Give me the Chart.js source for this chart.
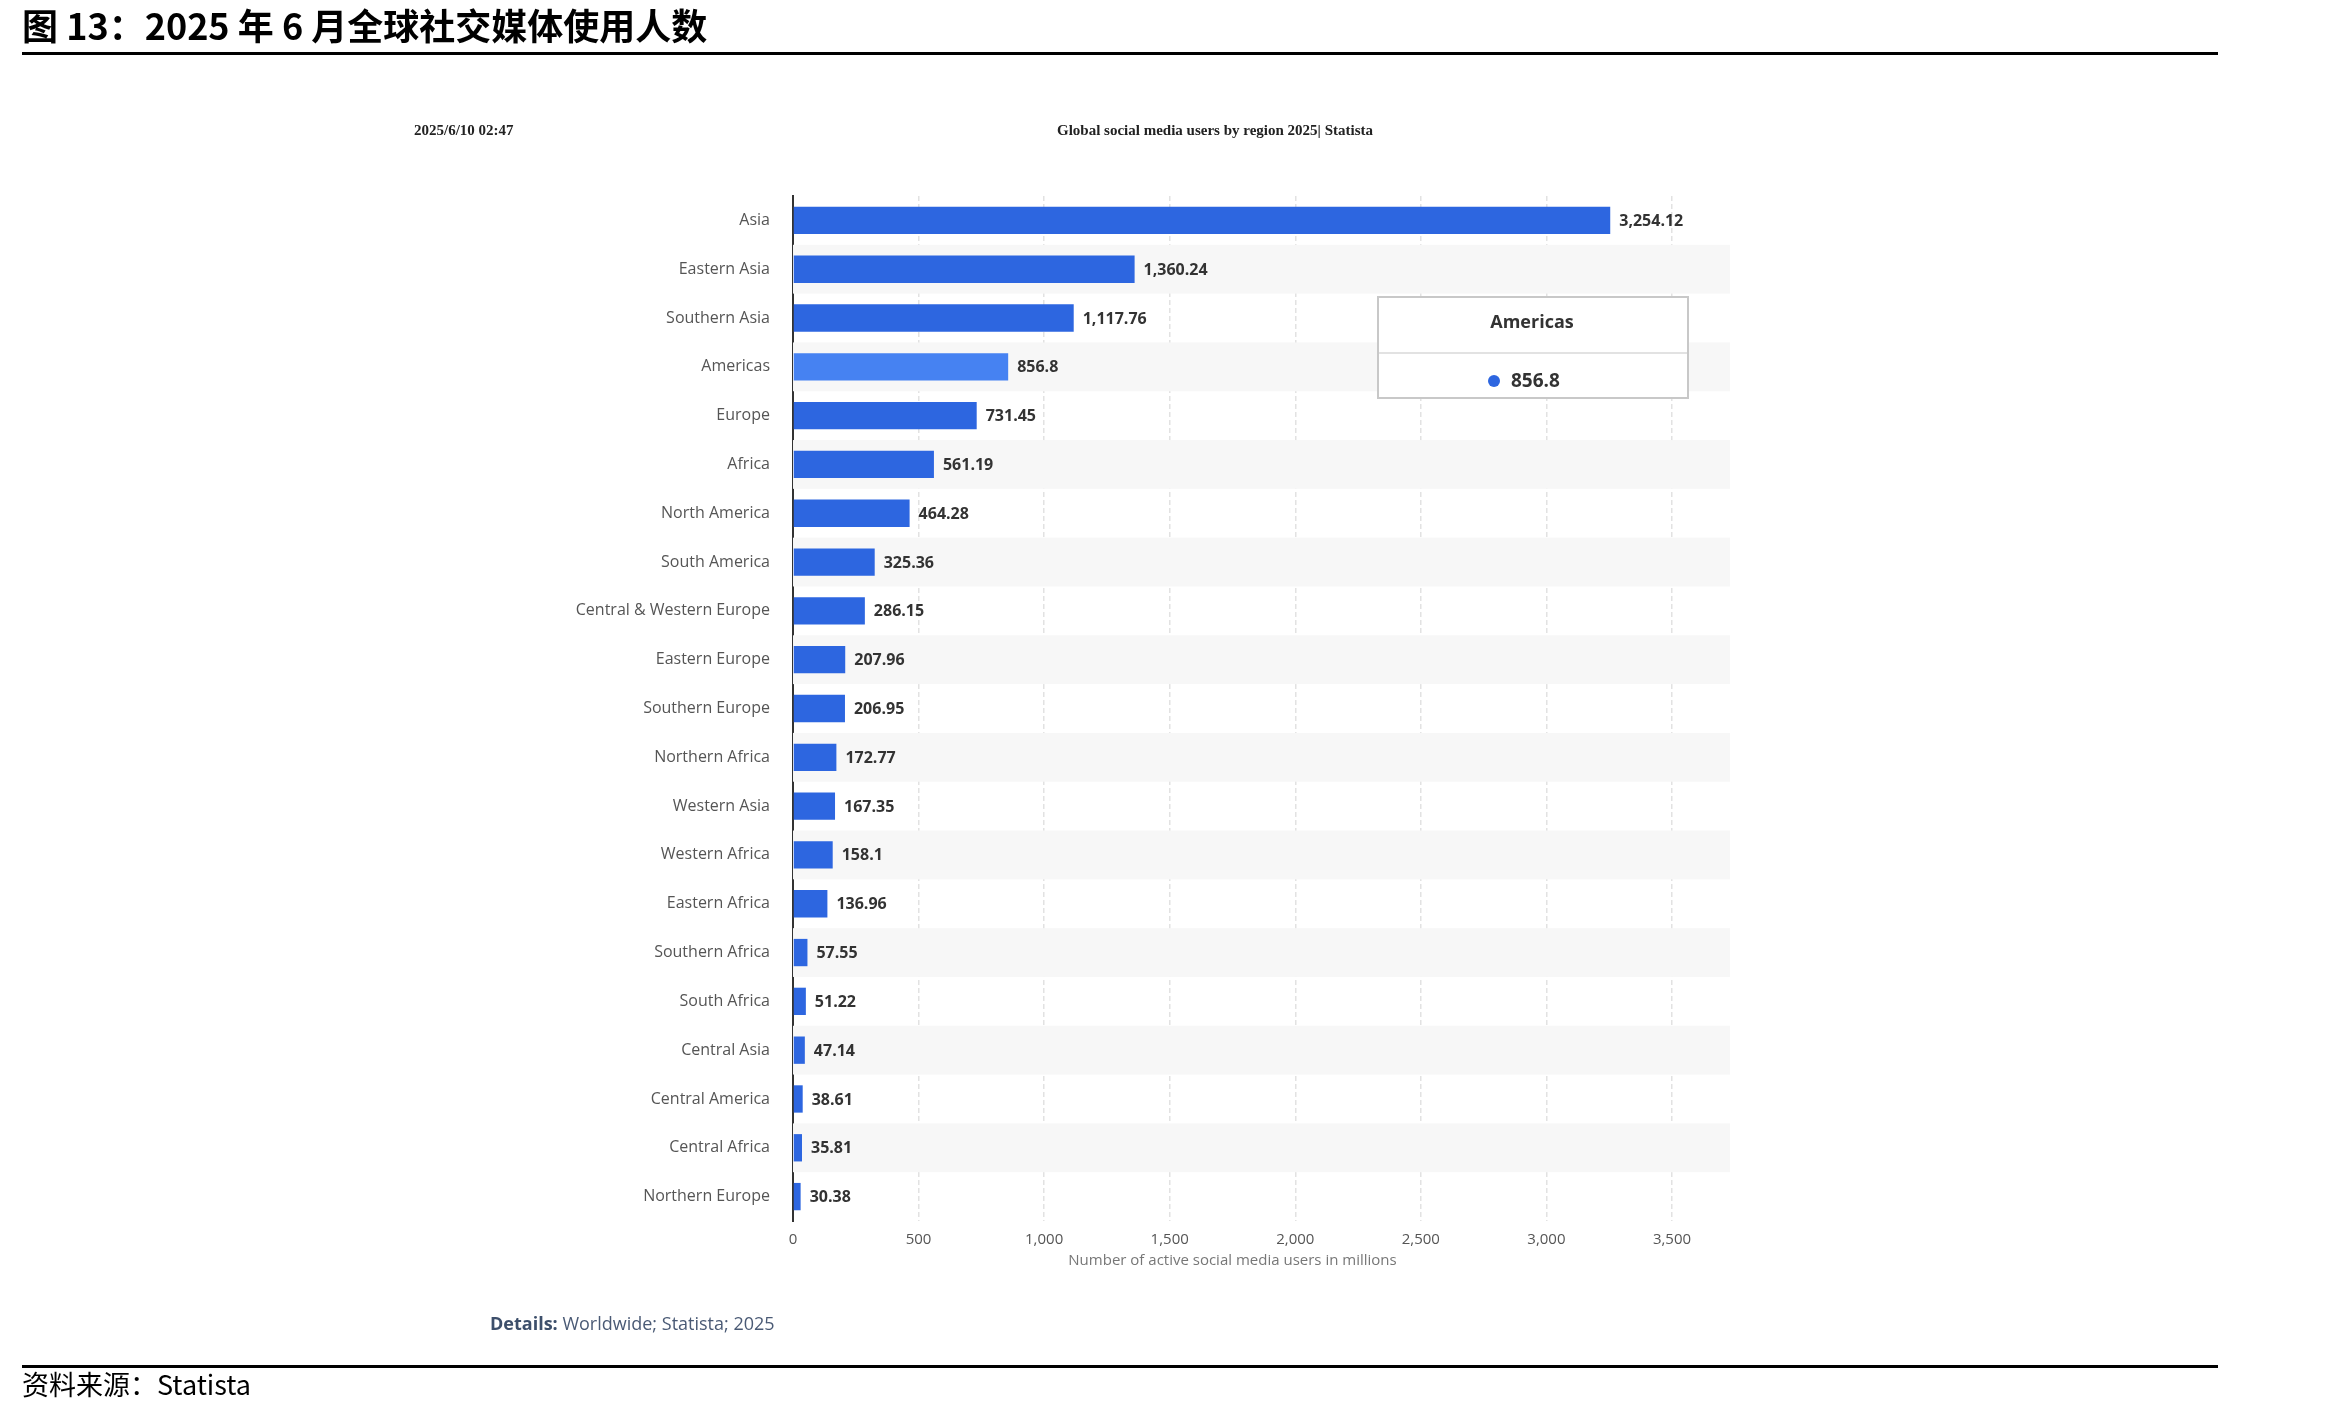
<!DOCTYPE html>
<html><head><meta charset="utf-8">
<script src="https://cdn.jsdelivr.net/npm/chart.js@4.4.1/dist/chart.umd.min.js"></script>
<style>html,body{margin:0;padding:0;background:#fff;overflow:hidden}canvas{display:block}</style>
</head><body>
<canvas id="c" width="2327" height="1401"></canvas>
<script>
const categories=["Asia","Eastern Asia","Southern Asia","Americas","Europe","Africa","North America","South America","Central & Western Europe","Eastern Europe","Southern Europe","Northern Africa","Western Asia","Western Africa","Eastern Africa","Southern Africa","South Africa","Central Asia","Central America","Central Africa","Northern Europe"];
const users=[3254.12,1360.24,1117.76,856.8,731.45,561.19,464.28,325.36,286.15,207.96,206.95,172.77,167.35,158.1,136.96,57.55,51.22,47.14,38.61,35.81,30.38];
const xTicks=[0,500,1000,1500,2000,2500,3000,3500];
const highlighted="Americas";
const fmt=v=>v.toLocaleString('en-US',{maximumFractionDigits:2});
const F='"Open Sans","Noto Sans",sans-serif';

const deco={id:'deco',
beforeDatasetsDraw(ch){const c=ch.ctx,a=ch.chartArea,y=ch.scales.y;const h=y.getPixelForValue(1)-y.getPixelForValue(0);
 c.save();c.fillStyle='#f7f7f7';
 for(let i=1;i<categories.length;i+=2){const p=y.getPixelForValue(i);c.fillRect(a.left,p-h/2,a.right-a.left,h);}
 c.restore();},
afterDraw(ch){const c=ch.ctx,a=ch.chartArea,m=ch.getDatasetMeta(0);
 c.save();c.textBaseline='middle';
 c.font='bold 16px '+F;c.fillStyle='#333';c.textAlign='left';
 m.data.forEach((b,i)=>c.fillText(fmt(users[i]),b.x+9,b.y+1));
 c.font='15px '+F;c.fillStyle='#777';c.textAlign='center';
 c.fillText('Number of active social media users in millions',(a.left+ch.scales.x.getPixelForValue(3500))/2,1261);
 // top texts
 c.font='bold 36px "Noto Sans CJK SC",sans-serif';c.fillStyle='#000';c.textAlign='left';
 c.fillText('图 13：2025 年 6 月全球社交媒体使用人数',22,26);
 c.fillRect(22,52,2196,3);
 c.font='bold 15px "Liberation Serif",serif';c.fillStyle='#222';
 c.fillText('2025/6/10 02:47',414,131);
 c.textAlign='center';c.fillText('Global social media users by region 2025| Statista',1215,131);
 c.textAlign='left';c.font='bold 18px '+F;c.fillStyle='#3d4f6b';
 c.fillText('Details:',490,1325);const w=c.measureText('Details: ').width;
 c.font='18px '+F;c.fillStyle='#4a5a75';c.fillText('Worldwide; Statista; 2025',490+w,1325);
 c.fillStyle='#000';c.fillRect(22,1365,2196,3);
 c.font='27px "Noto Sans CJK SC",sans-serif';c.fillText('资料来源：Statista',22,1385);
 // tooltip
 const i=categories.indexOf(highlighted);
 c.fillStyle='#fff';c.fillRect(1378,297,310,101);c.strokeStyle='#c8c8c8';c.lineWidth=2;c.strokeRect(1378,297,310,101);
 c.beginPath();c.moveTo(1379,353);c.lineTo(1687,353);c.strokeStyle='#e2e2e2';c.stroke();
 c.textAlign='center';c.fillStyle='#333';c.font='bold 18px '+F;c.fillText(categories[i],1532,323);
 c.fillStyle='#2d66e0';c.beginPath();c.arc(1494,381,6,0,Math.PI*2);c.fill();
 c.fillStyle='#333';c.textAlign='left';c.font='bold 19px '+F;c.fillText(fmt(users[i]),1511,382);
 c.restore();}};

new Chart(document.getElementById('c'),{type:'bar',
data:{labels:categories,datasets:[{data:users,backgroundColor:categories.map(k=>k===highlighted?'#4682f2':'#2d66e0'),barPercentage:0.56,categoryPercentage:1}]},
options:{indexAxis:'y',responsive:false,animation:false,devicePixelRatio:1,
 layout:{padding:{left:0,top:196,right:597,bottom:0}},
 plugins:{legend:{display:false},tooltip:{enabled:false}},
 scales:{
  x:{min:0,max:3731,afterBuildTicks:s=>{s.ticks=xTicks.map(v=>({value:v}));},afterFit:s=>{s.height=180;},
     grid:{color:'#e2e2e2',lineWidth:1.5,drawTicks:false},border:{display:false,dash:[5,3]},
     ticks:{padding:10,color:'#555',font:{family:F,size:15},callback:v=>fmt(v)}},
  y:{afterFit:s=>{s.width=793;},grid:{display:false,drawTicks:false},border:{color:'#333',width:2},
     ticks:{padding:23,color:'#555',font:{family:F,size:16}}}
 }},plugins:[deco]});
</script></body></html>
